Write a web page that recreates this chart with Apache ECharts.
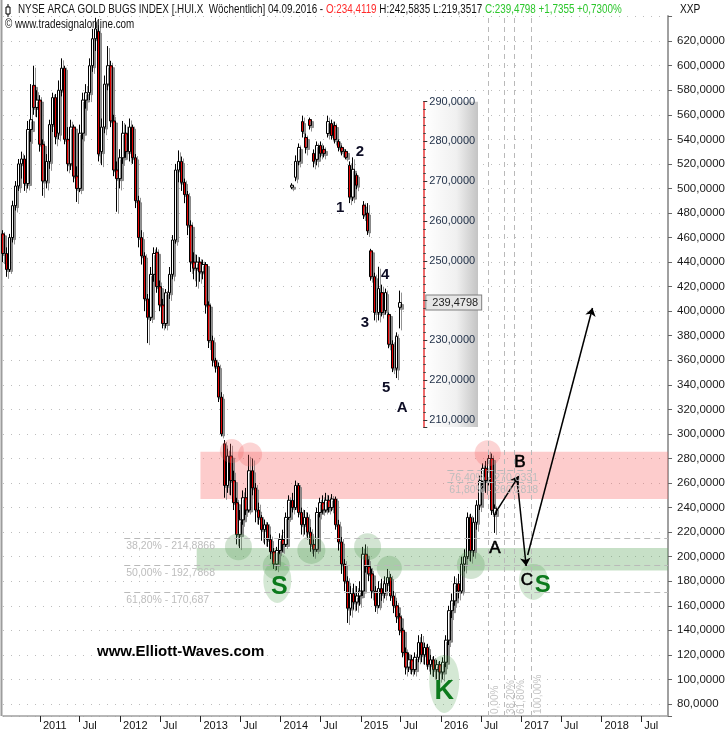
<!DOCTYPE html>
<html><head><meta charset="utf-8">
<script src="https://cdn.jsdelivr.net/npm/echarts@6/dist/echarts.min.js"></script>
<style>html,body{margin:0;padding:0;background:#fff}#c{width:728px;height:735px}</style>
</head><body><div id="c"></div>
<script>
// ---------- data ----------
const firstBarDate = '2010-07-18';
const barStepDays = 14;
// [open, close, low, high]
const mainOHLC = [
[463,447,440,466],[447,434,428,452],[434,460,432,463],[460,486,456,490],[486,502,482,506],
[502,520,498,524],[520,524,508,530],[524,504,498,527],[504,548,500,555],[548,556,538,585],
[584,566,560,600],[566,572,558,580],[572,536,530,576],[536,506,494,540],[506,522,500,528],
[522,552,516,556],[552,574,546,578],[574,542,536,577],[545,580,540,588],[580,598,575,606],
[598,540,536,600],[540,520,514,550],[520,550,515,556],[550,510,505,552],[510,500,489,518],
[500,545,497,552],[545,572,540,578],[572,578,565,585],[578,600,572,606],[600,622,595,630],
[622,630,612,639],[628,528,522,633],[530,550,519,557],[550,585,545,592],[585,600,580,616],
[600,555,550,604],[555,515,510,560],[515,508,481,522],[508,525,500,532],[525,545,520,555],
[545,530,525,552],[530,550,522,557],[550,525,520,552],[525,490,484,528],[490,460,452,494],
[460,445,438,466],[445,410,400,448],[410,395,374,414],[395,430,392,436],[430,447,424,452],
[448,420,415,452],[420,405,400,425],[405,390,386,410],[390,415,386,418],[415,430,410,436],
[430,458,426,462],[458,515,455,520],[515,522,505,531],[522,505,498,526],[505,495,488,508],
[495,470,462,498],[470,440,432,474],[440,435,426,448],[435,440,420,446],[440,432,424,444],
[432,438,426,442],[438,405,398,440],[405,376,370,408],[376,360,355,380],[360,355,350,362],
[355,330,326,358],[330,300,298,334],[292,258,248,295],[258,282,252,288],[282,262,250,292],
[262,244,238,270],[244,218,210,248],[218,230,207,238],[230,248,226,254],[248,238,234,256],
[238,270,236,283],[270,256,250,280],[256,238,228,260],[238,232,226,244],[232,222,213,234],
[222,226,210,230],[226,214,208,228],[214,204,198,218],[204,194,190,207],[194,205,189,208],
[205,214,202,219],[214,210,204,222],[210,232,208,236],[232,246,230,250],[246,240,236,252],
[240,258,238,262],[258,236,232,260],[236,226,218,240],[226,232,218,238],[232,220,214,236],
[220,210,204,224],[210,206,200,214],[206,236,204,240],[236,244,232,248],[244,238,235,250],
[238,246,236,252],[246,240,236,250],[240,247,237,251],[247,226,222,249],[226,212,205,230],
[212,194,186,216],[194,180,172,198],[180,158,146,184],[158,170,152,176],[170,163,157,178],
[163,168,156,176],[168,172,160,180],[172,202,168,208],[202,192,187,210],[192,186,180,198],
[186,172,166,190],[172,160,155,176],[160,174,158,180],[174,170,164,182],[170,178,166,184],
[178,183,172,190],[183,168,164,186],[168,160,154,172],[160,151,146,164],[151,140,136,154],
[140,122,118,142],[122,110,104,126],[110,116,106,122],[116,108,104,120],[108,118,104,122],
[118,130,114,136],[130,120,114,137],[120,126,112,130],[126,112,108,129],[112,116,104,120],
[116,108,102,119],[108,112,100,116],[112,106,99,115],[106,114,100,118],[114,132,110,136],
[132,156,128,160],[156,164,150,170],[164,178,160,184],[178,172,166,186],[172,194,170,200],
[194,200,188,206],[200,232,198,236],[232,205,196,235],[205,228,200,232],[228,242,222,246],
[242,262,238,266],[262,272,255,276],[272,262,252,278],[262,280,258,287],[280,237.74,234,284],
[234.4119,239.4798,219.3517,242.5835]
];
// inset (daily detail): [slot, open, close, low, high]
const insetOHLC = [
[0,268.5,269,268,269.5],[1,271,275,270,276.5],[2,275,278.5,274,279.5],[3,285,282.5,281,286.5],
[4,281,278.5,277,282],[5,285.5,284,283,286],[6,277,275,273.5,278],[7,275.5,279,274,280],
[8,279,277,276,280],[9,278,277,276,279],[10,282,285,281,286.5],[11,284.5,281.5,280.5,285.5],
[12,284,280.5,279.5,285],[13,280,278.5,277.5,280.5],[14,278.5,277.5,276.5,279],[15,277.5,276,275.5,278],
[16,274,266,264.5,275],[17,266,273,265,276],[18,271.5,269,268,272],[20,264,261.5,260.5,265],
[21,262,257.5,256.5,264.5],[22,252.5,246,245,253],[23,246,237,235,247],[24,237,243,235,248.5],
[25,242,237,236,244],[26,237.5,242,236.5,243],[27,236.5,229,228,237],[28,229,223,222,230],
[29,223,231,220.5,232],[30,238.3,239.48,233,242.5]
];
const lastClose = 239.4798;
const insetWaveLabels = [['1',13.4,263.3],['2',18.9,277.4],['3',20.3,234.4],['4',25.9,246.5],['5',26.2,218.1],['A',30.6,213]];
const mainWaveLabels = [['A','2016-09-03',206.7],['B','2016-12-26',276.7],['C','2017-01-26',181]];
const greenLetters = [['S','2013-12-26',175.3,25],['K','2016-01-16',89.8,27],['S','2017-04-09',177,24]];
// zones: [startDate, low, high, kind]
const zones = [['2013-01-01',246.9,285.5,'red'],['2012-12-15',188.8,207.1,'green']];
// highlight circles: [date, value, size, kind]
const circles = [
['2013-05-24',286,24,'red'],['2013-08-15',283.3,24,'red'],['2016-08-01',284.3,26,'red'],
['2013-06-23',208.1,27,'green'],['2013-12-12',192.4,27,'green'],['2014-05-21',205.5,28,'green'],
['2015-02-01',208.1,27,'green'],['2015-05-11',190.5,25,'green'],['2016-05-16',193.2,28,'green']
];
// drop shapes: [date, value, width, height]
const drops = [['2013-12-17',179.4,28,42],['2016-01-16',96.3,30,58],['2017-02-25',179.4,29,36]];
// forecast arrows: [fromDate, fromValue, toDate, toValue]
const arrows = [['2016-09-02',234.8,'2016-12-20',265.7],['2016-12-12',263.9,'2017-01-23',192.4],['2017-01-30',201.4,'2017-11-21',402.6]];
// fibonacci price levels: [label, value, startDate, endDate]
const fibPrice = [
['38,20% - 214,8866',214.8866,'2012-01-20',null],['50,00% - 192,7868',192.7868,'2012-01-20',null],
['61,80% - 170,687',170.687,'2012-01-20',null],
['76,40% - 270,0331',270.0331,'2016-01-30','2017-02-18'],['61,80% - 260,2818',260.2818,'2016-01-30','2017-02-18']
];
// fibonacci time lines: [label, date]
const fibTime = [['0,00%','2016-08-04'],['38,20%','2016-10-13'],['61,80%','2016-11-30'],['100,00%','2017-02-14']];

// ---------- chart ----------
const DAY = 864e5;
const d = s => Date.parse(s + 'T00:00:00Z');
const X_MIN = d('2010-07-17'), X_MAX = d('2018-10-31');
const FR = "'Liberation Sans',Arial,sans-serif";
const fmt4 = v => v.toFixed(4).replace('.', ',');
const barStart = d(firstBarDate);
const mainRows = mainOHLC.map((r, i) => [barStart + i * barStepDays * DAY, r[0], r[1], r[2], r[3]]);
const candleStyle = {
  color: '#ffffff', color0: '#e00000', borderColor: '#000', borderColor0: '#000', borderWidth: 1,
  shadowColor: 'rgba(120,120,120,0.8)', shadowOffsetX: 2, shadowOffsetY: 2, shadowBlur: 0
};
const zoneColor = {red: 'rgba(248,110,110,0.35)', green: 'rgba(95,165,95,0.35)'};
const circColor = {red: 'rgba(245,100,100,0.35)', green: 'rgba(80,150,80,0.32)'};

const fibLines = fibPrice.map(f => [
  {coord: [d(f[2]), f[1]], label: {show: true, formatter: f[0], position: 'insideStartBottom', distance: 2,
    color: '#bdbdbd', fontFamily: FR, fontSize: 10.5},
   lineStyle: {color: '#b9b9b9', type: [6, 4], width: 1}},
  {coord: [f[3] ? d(f[3]) : X_MAX, f[1]]}
]);
const timeLines = fibTime.map(f => ({
  xAxis: d(f[1]), label: {show: true, formatter: f[0], position: 'insideStartBottom', distance: 2,
    color: '#c4c4c4', fontFamily: FR, fontSize: 10},
  lineStyle: {color: '#b9b9b9', type: [5, 4], width: 1}
}));
const letterLabel = {show: true, position: 'inside', formatter: p => p.name, opacity: 1,
  textShadowBlur: 0, fontFamily: FR};

const chart = echarts.init(document.getElementById('c'), null, {renderer: 'canvas'});
chart.setOption({
  animation: false,
  useUTC: true,
  backgroundColor: '#ffffff',
  textStyle: {fontFamily: FR},
  grid: [
    {left: 3, right: 56, top: 16, bottom: 19},
    {left: 290, right: 304.7, top: 101.7, bottom: 308}
  ],
  xAxis: [
    {type: 'time', gridIndex: 0, min: X_MIN, max: X_MAX, splitNumber: 16,
     minInterval: 182 * DAY, maxInterval: 184 * DAY,
     axisLine: {show: true, lineStyle: {color: '#a0a0a0', width: 1.5}},
     axisTick: {show: true, length: 6, lineStyle: {color: '#222'}},
     axisLabel: {align: 'left', padding: [0, 0, 0, 3], margin: 4, color: '#111', fontFamily: FR, fontSize: 11,
       showMinLabel: false, showMaxLabel: false, hideOverlap: false,
       formatter: v => { const t = new Date(v); if (t.getUTCDate() !== 1) return '';
         if (t.getUTCMonth() === 0) return String(t.getUTCFullYear());
         if (t.getUTCMonth() === 6) return 'Jul'; return ''; }},
     splitLine: {show: false}},
    {type: 'value', gridIndex: 1, min: -0.5, max: 36.5, show: false}
  ],
  yAxis: [
    {type: 'value', gridIndex: 0, position: 'right', min: 70.2, max: 640.5, splitNumber: 28,
     minInterval: 20, maxInterval: 20,
     axisLine: {show: true, onZero: false, lineStyle: {color: '#a0a0a0', width: 2}},
     axisTick: {show: true, length: 4, lineStyle: {color: '#666'}},
     axisLabel: {margin: 9, color: '#1a1a1a', fontFamily: FR, fontSize: 11.5,
       formatter: v => (Math.abs(v % 20) < 1e-6 && v >= 80 && v <= 620) ? fmt4(v) : ''},
     splitLine: {show: true, lineStyle: {color: '#bdbdbd', type: [1, 7], width: 1}}},
    {type: 'value', gridIndex: 1, position: 'right', min: 208.2, max: 290, splitNumber: 8,
     minInterval: 10, maxInterval: 10, z: 6,
     axisLine: {show: true, onZero: false, lineStyle: {color: '#e83a3a', width: 1.5}},
     axisTick: {show: true, length: 4, lineStyle: {color: '#333'}},
     minorTick: {show: true, splitNumber: 5, length: 2.5, lineStyle: {color: '#444'}},
     axisLabel: {margin: 6, color: '#22324a', fontFamily: FR, fontSize: 11,
       // the 240 label sits under the last-price tag
       formatter: v => (Math.abs(v % 10) < 1e-6 && v >= 210 && Math.abs(v - lastClose) > 3) ? fmt4(v) : ''},
     splitLine: {show: false}}
  ],
  graphic: [
    {type: 'line', shape: {x1: 1.5, y1: 0, x2: 1.5, y2: 716}, style: {stroke: '#9c9c9c', lineWidth: 2}, z: 1},
    {type: 'rect', shape: {x: 424, y: 101.7, width: 54, height: 325.3}, z: 1, silent: true,
     style: {fill: new echarts.graphic.LinearGradient(0, 0, 1, 0, [
       {offset: 0, color: '#ffffff'}, {offset: 0.6, color: '#f0f0f0'}, {offset: 1, color: '#c4c4c4'}])}},
    {type: 'line', shape: {x1: 8, y1: 4, x2: 8, y2: 17}, style: {stroke: '#000', lineWidth: 1}, z: 5},
    {type: 'rect', shape: {x: 6, y: 7, width: 4, height: 7}, style: {fill: '#fff', stroke: '#000', lineWidth: 1}, z: 6},
    {type: 'text', x: 18, y: 4, scaleX: 0.82, z: 5, style: {
      text: '{k|NYSE ARCA GOLD BUGS INDEX [.HUI.X  Wöchentlich] 04.09.2016 - }{r|O:234,4119}{k| H:242,5835 L:219,3517 }{g|C:239,4798 +1,7355 +0,7300%}',
      font: '12px ' + FR, fill: '#111',
      rich: {k: {fill: '#111', fontSize: 12, fontFamily: FR}, r: {fill: '#ff2b2b', fontSize: 12, fontFamily: FR},
             g: {fill: '#2cc62c', fontSize: 12, fontFamily: FR}}}},
    {type: 'text', x: 5, y: 19, scaleX: 0.82, z: 5, style: {text: '© www.tradesignalonline.com', fill: '#111', font: '12px ' + FR}},
    {type: 'text', x: 680, y: 4, scaleX: 0.85, z: 5, style: {text: 'XXP', fill: '#111', font: '12px ' + FR}},
    {type: 'text', x: 97, y: 644, z: 5, style: {text: 'www.Elliott-Waves.com', fill: '#000', font: 'bold 15px ' + FR}}
  ],
  series: [
    {type: 'candlestick', name: 'HUI', xAxisIndex: 0, yAxisIndex: 0, data: mainRows, barWidth: 3,
     itemStyle: candleStyle, silent: true, z: 2,
     markArea: {silent: true, data: zones.map(zn => [
       {xAxis: d(zn[0]), yAxis: zn[1], itemStyle: {color: zoneColor[zn[3]]}},
       {xAxis: X_MAX, yAxis: zn[2]}])},
     markLine: {silent: true, symbol: 'none', animation: false, data: fibLines.concat(timeLines)}},
    {type: 'candlestick', name: 'HUI detail', xAxisIndex: 1, yAxisIndex: 1, data: insetOHLC, barWidth: 3,
     itemStyle: candleStyle, silent: true, z: 8,
     markLine: {silent: true, symbol: 'none', data: [{yAxis: lastClose,
       lineStyle: {color: 'transparent', width: 0},
       label: {show: true, position: 'end', distance: 3, formatter: fmt4(lastClose), color: '#222',
         fontFamily: FR, fontSize: 11, backgroundColor: '#e6e6e6', borderColor: '#808080', borderWidth: 1,
         padding: [2, 3, 1, 6]}}]}},
    {type: 'scatter', xAxisIndex: 0, yAxisIndex: 0, silent: true, z: 4,
     data: circles.map(c => ({value: [d(c[0]), c[1]], symbolSize: c[2], itemStyle: {color: circColor[c[3]]}}))},
    {type: 'scatter', xAxisIndex: 0, yAxisIndex: 0, silent: true, z: 4,
     symbol: 'path://M15,0 C25,0 30,9 30,20 C30,33 23,44 15,44 C7,44 0,33 0,20 C0,9 5,0 15,0 Z',
     symbolKeepAspect: false,
     data: drops.map(p => ({value: [d(p[0]), p[1]], symbolSize: [p[2], p[3]], itemStyle: {color: 'rgba(80,160,80,0.3)'}}))},
    {type: 'lines', coordinateSystem: 'cartesian2d', xAxisIndex: 0, yAxisIndex: 0, silent: true, z: 5,
     symbol: ['none', 'arrow'], symbolSize: 8,
     lineStyle: {color: '#000', width: 1.5, opacity: 1},
     data: arrows.map(a => ({coords: [[d(a[0]), a[1]], [d(a[2]), a[3]]]}))},
    {type: 'scatter', xAxisIndex: 0, yAxisIndex: 0, silent: true, z: 6, symbolSize: 1,
     itemStyle: {color: 'transparent'},
     data: mainWaveLabels.map(w => ({value: [d(w[1]), w[2]], name: w[0]}))
       .concat(greenLetters.map(g => ({value: [d(g[1]), g[2]], name: g[0],
         label: {color: '#0c7a1c', fontSize: g[3], fontWeight: 'bold', textBorderWidth: 0}}))),
     label: Object.assign({}, letterLabel, {color: '#000', fontSize: 17, textBorderColor: '#000', textBorderWidth: 0.6})},
    {type: 'scatter', xAxisIndex: 1, yAxisIndex: 1, silent: true, z: 9, symbolSize: 1,
     itemStyle: {color: 'transparent'},
     data: insetWaveLabels.map(w => ({value: [w[1], w[2]], name: w[0]})),
     label: Object.assign({}, letterLabel, {color: '#0d0d25', fontSize: 15, fontWeight: 'bold', textBorderWidth: 0})}
  ]
});
</script></body></html>
